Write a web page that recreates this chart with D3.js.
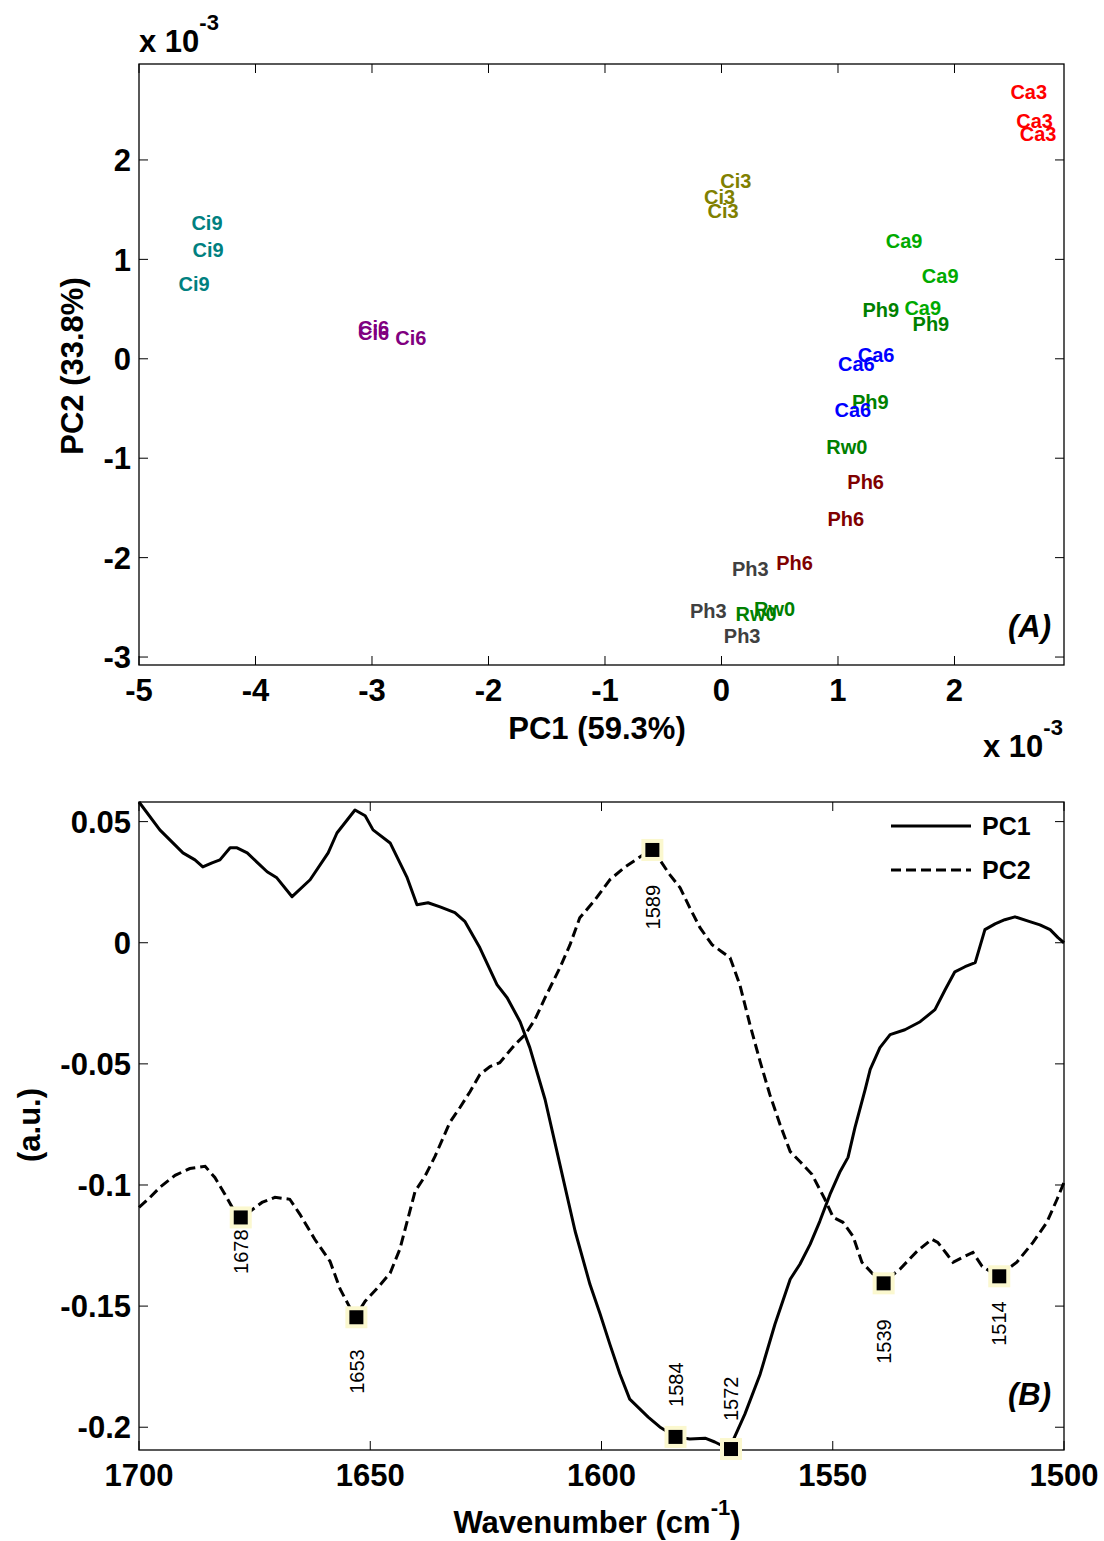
<!DOCTYPE html>
<html>
<head>
<meta charset="utf-8">
<script src="https://cdn.jsdelivr.net/npm/d3@7"></script>
<style>
  body { margin: 0; background: #fff; }
  text { font-family: "Liberation Sans", Arial, sans-serif; }
</style>
</head>
<body>
<svg id="chart" width="1104" height="1541"></svg>
<script>
// ---- panel A: PCA scores (x 1e-3) ----
const scoreLabels = ["Ca3","Ca3","Ca3","Ci3","Ci3","Ci3","Ci9","Ci9","Ci9","Ca9","Ca9","Ca9",
  "Ph9","Ph9","Ci6","Ci6","Ci6","Ca6","Ca6","Ph9","Ca6","Rw0","Ph6","Ph6","Ph6","Ph3","Ph3","Rw0","Rw0","Ph3"];
const scorePC1 = [2.48,2.53,2.56,-0.01,-0.15,-0.12,-4.55,-4.54,-4.66,1.41,1.72,1.57,
  1.21,1.64,-3.12,-3.12,-2.80,1.17,1.00,1.12,0.97,0.90,1.08,0.91,0.47,0.09,-0.27,0.28,0.12,0.02];
const scorePC2 = [2.69,2.39,2.26,1.79,1.63,1.49,1.37,1.10,0.75,1.19,0.83,0.51,
  0.49,0.35,0.31,0.26,0.21,0.04,-0.05,-0.43,-0.51,-0.89,-1.24,-1.61,-2.05,-2.11,-2.53,-2.51,-2.56,-2.79];
const groupColors = { Ca3: "#ff0000", Ci3: "#808000", Ci9: "#008080", Ca9: "#00aa00",
  Ph9: "#008000", Ci6: "#800080", Ca6: "#0000ff", Rw0: "#008000", Ph6: "#800000", Ph3: "#404040" };
const xTicksA = [-5, -4, -3, -2, -1, 0, 1, 2];
const yTicksA = [-3, -2, -1, 0, 1, 2];

// ---- panel B: loadings ----
const wnPC1 = [1700,1695.5,1690.5,1687.9,1686.2,1684.2,1682.5,1680.3,1678.8,1676.6,1672.3,1670.2,1666.9,1663.0,
  1659.1,1657.2,1653.3,1651.1,1649.4,1645.7,1642.1,1639.9,1637.5,1634.9,1631.7,1629.5,1626.3,1622.6,1620.4,
  1617.6,1615.5,1612.2,1609.0,1605.7,1602.5,1600.3,1598.2,1596.0,1593.9,1589.9,1587.4,1583.9,1580.9,1577.6,
  1575.5,1572.4,1569.0,1565.7,1562.5,1559.2,1557.1,1554.9,1552.8,1550.6,1548.4,1546.7,1545.2,1543.0,1541.9,
  1539.8,1537.6,1534.4,1531.1,1527.9,1525.7,1523.6,1521.4,1519.2,1517.1,1514.9,1512.8,1510.6,1507.4,1505.2,
  1503.0,1501.3,1500];
const valPC1 = [0.0581,0.0466,0.0371,0.0342,0.0313,0.0330,0.0342,0.0392,0.0392,0.0371,0.0293,0.0268,0.0190,0.0260,
  0.0371,0.0453,0.0548,0.0524,0.0466,0.0412,0.0272,0.0157,0.0165,0.0148,0.0124,0.0087,-0.0021,-0.0173,-0.0227,
  -0.0326,-0.0433,-0.0647,-0.0915,-0.1191,-0.1410,-0.1533,-0.1657,-0.1781,-0.1884,-0.1958,-0.1999,-0.2040,-0.2049,-0.2045,
  -0.2061,-0.2090,-0.1946,-0.1781,-0.1575,-0.1389,-0.1327,-0.1245,-0.1150,-0.1039,-0.0944,-0.0886,-0.0763,-0.0606,-0.0523,
  -0.0433,-0.0379,-0.0359,-0.0326,-0.0276,-0.0194,-0.0120,-0.0099,-0.0082,0.0054,0.0078,0.0095,0.0107,0.0087,0.0074,
  0.0054,0.0021,0.0];
const wnPC2 = [1700,1697.6,1695.5,1692.2,1689.0,1685.7,1683.6,1681.4,1678.6,1676.0,1673.4,1670.6,1667.4,1665.2,
  1662.0,1658.7,1656.5,1653.3,1651.1,1648.3,1645.7,1643.6,1640.3,1638.2,1636.0,1632.8,1630.6,1628.4,1626.3,
  1624.1,1622.0,1618.7,1616.5,1614.4,1612.2,1609.0,1606.8,1604.7,1601.4,1598.2,1594.9,1591.7,1589.5,1587.4,
  1585.2,1583.0,1580.9,1578.7,1576.1,1574.0,1572.2,1570.1,1567.9,1565.7,1563.6,1561.4,1559.2,1557.1,1554.5,
  1551.7,1549.9,1547.8,1545.6,1543.7,1539.4,1535.5,1531.8,1528.6,1527.3,1525.3,1524.0,1521.8,1519.7,1517.7,
  1514.3,1510.2,1506.7,1503.7,1501.5,1500];
const valPC2 = [-0.1092,-0.1051,-0.1010,-0.0960,-0.0932,-0.0923,-0.0969,-0.1039,-0.1134,-0.1109,-0.1072,-0.1051,-0.1059,-0.1121,
  -0.1224,-0.1315,-0.1430,-0.1546,-0.1480,-0.1422,-0.1364,-0.1265,-0.1026,-0.0965,-0.0882,-0.0742,-0.0680,-0.0614,-0.0544,
  -0.0511,-0.0495,-0.0420,-0.0379,-0.0317,-0.0227,-0.0103,-0.0008,0.0103,0.0177,0.0260,0.0313,0.0354,0.0383,0.0342,
  0.0280,0.0227,0.0144,0.0062,-0.0008,-0.0037,-0.0062,-0.0173,-0.0338,-0.0491,-0.0627,-0.0750,-0.0862,-0.0903,-0.0956,
  -0.1059,-0.1134,-0.1154,-0.1212,-0.1319,-0.1406,-0.1348,-0.1274,-0.1224,-0.1237,-0.1286,-0.1319,-0.1298,-0.1278,-0.1336,
  -0.1377,-0.1319,-0.1237,-0.1154,-0.1059,-0.0989];
const peakWn = [1678, 1653, 1589, 1584, 1572, 1539, 1514];
const peakVal = [-0.1134, -0.1546, 0.0383, -0.2040, -0.2090, -0.1406, -0.1377];
const peakLabelOffset = [12, 32, 35, -30, -28, 36, 25]; // px: + below marker, - above
const xTicksB = [1700, 1650, 1600, 1550, 1500];
const yTicksB = [-0.2, -0.15, -0.1, -0.05, 0, 0.05];

const svg = d3.select("#chart");
const FONT = 31;

function drawFrame(x, y, xTicks, yTicks) {
  const [x0, x1] = x.range(), [y0, y1] = y.range();
  const g = svg.append("g");
  g.append("rect").attr("x", x0).attr("y", y1).attr("width", x1 - x0).attr("height", y0 - y1)
    .attr("fill", "none").attr("stroke", "#000").attr("stroke-width", 1.3);
  const tl = 9;
  xTicks.forEach((t) => {
    g.append("line").attr("x1", x(t)).attr("x2", x(t)).attr("y1", y0).attr("y2", y0 - tl).attr("stroke", "#000");
    g.append("line").attr("x1", x(t)).attr("x2", x(t)).attr("y1", y1).attr("y2", y1 + tl).attr("stroke", "#000");
    g.append("text").attr("x", x(t)).attr("y", y0 + 36).attr("text-anchor", "middle")
      .attr("font-size", FONT).attr("font-weight", "bold").text(String(t));
  });
  yTicks.forEach((t) => {
    g.append("line").attr("x1", x0).attr("x2", x0 + tl).attr("y1", y(t)).attr("y2", y(t)).attr("stroke", "#000");
    g.append("line").attr("x1", x1).attr("x2", x1 - tl).attr("y1", y(t)).attr("y2", y(t)).attr("stroke", "#000");
    g.append("text").attr("x", x0 - 8).attr("y", y(t)).attr("dy", "0.36em").attr("text-anchor", "end")
      .attr("font-size", FONT).attr("font-weight", "bold").text(String(t));
  });
}

function expLabel(xp, yp) {
  const t = svg.append("text").attr("x", xp).attr("y", yp).attr("font-size", FONT).attr("font-weight", "bold");
  t.append("tspan").text("x 10");
  t.append("tspan").attr("font-size", 22).attr("dy", -22).text("-3");
}

// ---------- panel A ----------
const xA = d3.scaleLinear().domain([-5, 2.94]).range([139, 1064]);
const yA = d3.scaleLinear().domain([-3.08, 2.965]).range([665, 64]);
drawFrame(xA, yA, xTicksA, yTicksA);

svg.append("g").selectAll("text").data(scoreLabels).enter().append("text")
  .attr("x", (d, i) => xA(scorePC1[i]))
  .attr("y", (d, i) => yA(scorePC2[i]))
  .attr("dy", "0.36em")
  .attr("font-size", 20).attr("font-weight", "bold")
  .attr("fill", (d) => groupColors[d])
  .text((d) => d);

svg.append("text").attr("x", 1051).attr("y", 637).attr("text-anchor", "end")
  .attr("font-size", FONT).attr("font-weight", "bold").attr("font-style", "italic").text("(A)");
svg.append("text").attr("x", 597).attr("y", 739).attr("text-anchor", "middle")
  .attr("font-size", FONT).attr("font-weight", "bold").text("PC1 (59.3%)");
svg.append("text").attr("transform", "translate(83,366) rotate(-90)").attr("text-anchor", "middle")
  .attr("font-size", FONT).attr("font-weight", "bold").text("PC2 (33.8%)");
expLabel(139, 52);
expLabel(983, 757);

// ---------- panel B ----------
const xB = d3.scaleLinear().domain([1700, 1500]).range([139, 1064]);
const yB = d3.scaleLinear().domain([-0.2094, 0.0581]).range([1450, 802]);
drawFrame(xB, yB, xTicksB, yTicksB);

const line = d3.line().x((d) => xB(d[0])).y((d) => yB(d[1]));
svg.append("path").datum(wnPC1.map((w, i) => [w, valPC1[i]]))
  .attr("d", line).attr("fill", "none").attr("stroke", "#000").attr("stroke-width", 3)
  .attr("stroke-linejoin", "round");
svg.append("path").datum(wnPC2.map((w, i) => [w, valPC2[i]]))
  .attr("d", line).attr("fill", "none").attr("stroke", "#000").attr("stroke-width", 3)
  .attr("stroke-dasharray", "10,5");

const peaks = svg.append("g");
peakWn.forEach((w, i) => {
  const px = xB(w), py = yB(peakVal[i]), off = peakLabelOffset[i];
  peaks.append("rect").attr("x", px - 9).attr("y", py - 9).attr("width", 18).attr("height", 18)
    .attr("fill", "#000").attr("stroke", "#fbf8cf").attr("stroke-width", 4);
  peaks.append("text")
    .attr("transform", `translate(${px},${py + off}) rotate(-90)`)
    .attr("text-anchor", off > 0 ? "end" : "start")
    .attr("dy", "0.36em").attr("font-size", 20).text(w);
});

// legend
const legend = svg.append("g");
[["PC1", null, 826], ["PC2", "10,5", 870]].forEach(([name, dash, ly]) => {
  legend.append("line").attr("x1", 891).attr("x2", 971).attr("y1", ly).attr("y2", ly)
    .attr("stroke", "#000").attr("stroke-width", 3).attr("stroke-dasharray", dash);
  legend.append("text").attr("x", 982).attr("y", ly).attr("dy", "0.36em")
    .attr("font-size", 25).attr("font-weight", "bold").text(name);
});

svg.append("text").attr("x", 1051).attr("y", 1405).attr("text-anchor", "end")
  .attr("font-size", FONT).attr("font-weight", "bold").attr("font-style", "italic").text("(B)");
const wl = svg.append("text").attr("x", 597).attr("y", 1533).attr("text-anchor", "middle")
  .attr("font-size", FONT).attr("font-weight", "bold");
wl.append("tspan").text("Wavenumber (cm");
wl.append("tspan").attr("font-size", 22).attr("dy", -18).text("-1");
wl.append("tspan").attr("dy", 18).text(")");
svg.append("text").attr("transform", "translate(40,1125) rotate(-90)").attr("text-anchor", "middle")
  .attr("font-size", FONT).attr("font-weight", "bold").text("(a.u.)");
</script>
</body>
</html>
